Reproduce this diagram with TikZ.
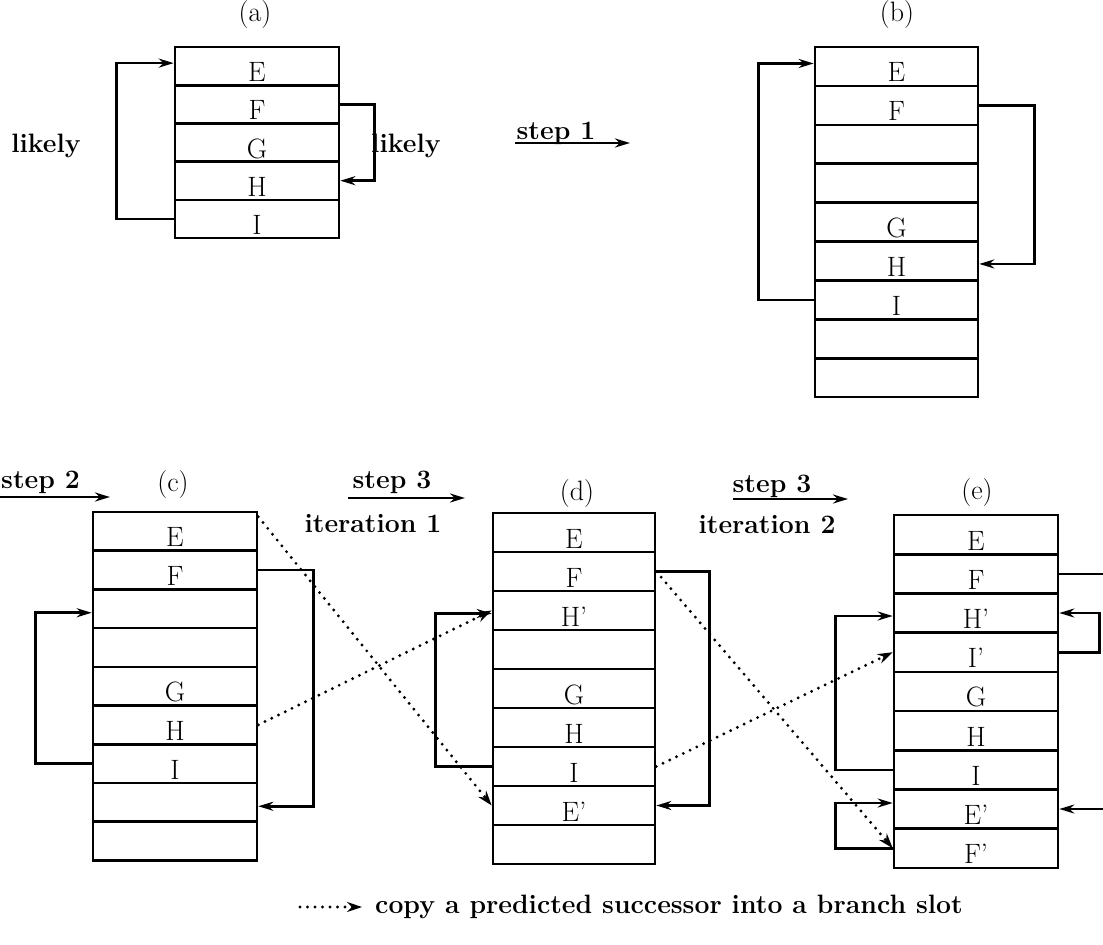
\documentclass[tikz,border=0pt]{standalone}
\usepackage{fontspec}
\setmainfont{Latin Modern Roman}
\usetikzlibrary{arrows.meta}
\begin{document}
\begin{tikzpicture}[x=1pt,y=-1pt,
  slot/.style={draw, line width=2.6pt, rectangle, inner sep=0pt, text height=31pt, text depth=0pt, font=\fontsize{28}{30}\selectfont},
  conn/.style={line width=2.6pt, line join=miter},
  arr/.style={conn, -{Stealth[length=15pt,width=9pt]}},
  dotarr/.style={line width=3.2pt, line cap=round, dash pattern=on 0pt off 7.5pt, -{Stealth[length=15pt,width=10pt]}},
  lbl/.style={font=\fontsize{26.6}{30}\selectfont\bfseries, inner sep=0pt},
  panelcap/.style={font=\fontsize{28}{30}\selectfont, inner sep=0pt}]
\useasboundingbox (0,0) rectangle (1103,945);

\newcommand\slotpanel[6]{%
  \foreach \t [count=\i] in {#6} {
    \node[slot, minimum width=#3pt, minimum height=#5pt] (#1\i) at ({#2+#3/2},{#4+(\i-0.5)*#5}) {\t};
  }}

% panels
\slotpanel{a}{175}{164}{47}{38.2}{E,F,G,H,I}
\slotpanel{b}{815}{163}{47}{38.9}{E,F,{},{},G,H,I,{},{}}
\slotpanel{c}{93}{164}{512}{38.7}{E,F,{},{},G,H,I,{},{}}
\slotpanel{d}{493}{162}{513}{39}{E,F,H',{},G,H,I,E',{}}
\slotpanel{e}{894}{164}{515}{39.2}{E,F,H',I',G,H,I,E',F'}

% panel captions
\node[panelcap] (capa) at (255,15) {(a)};
\node[panelcap] (capb) at (897,15) {(b)};
\node[panelcap] (capc) at (173,485) {(c)};
\node[panelcap] (capd) at (577,494) {(d)};
\node[panelcap] (cape) at (977,493) {(e)};

% likely labels
\node[lbl, anchor=base] (lk1) at (46,152) {likely};
\node[lbl, anchor=base west] (lk2) at (371,152) {likely};

% (a) loops
\draw[arr] (a5.west) -| ([xshift=-57pt,yshift=3pt]a1.west) -- ([yshift=3pt]a1.west);
\draw[arr] (a2.east) -| ([xshift=34pt]a4.east) -- (a4.east);

% (b) loops
\draw[arr] (b7.west) -| ([xshift=-55pt,yshift=3pt]b1.west) -- ([yshift=3pt]b1.west);
\draw[arr] (b2.east) -| ([xshift=55pt,yshift=-3pt]b6.east) -- ([yshift=-3pt]b6.east);

% (c) loops
\draw[arr] (c7.west) -| ([xshift=-56pt,yshift=-4pt]c3.west) -- ([yshift=-4pt]c3.west);
\draw[arr] (c2.east) -| ([xshift=55pt,yshift=-4pt]c8.east) -- ([yshift=-4pt]c8.east);

% (d) loops
\draw[arr] (d7.west) -| ([xshift=-56pt,yshift=-3pt]d3.west) -- ([yshift=-3pt]d3.west);
\draw[arr] (d2.east) -| ([xshift=53pt]d8.east) -- (d8.east);

% (e) loops
\draw[arr] (e7.west) -| ([xshift=-57pt,yshift=-3pt]e3.west) -- ([yshift=-3pt]e3.west);
\draw[arr] (e9.west) -| ([xshift=-57pt,yshift=6pt]e8.west) -- ([yshift=6pt]e8.west);
\draw[arr] (e4.east) -| ([xshift=40pt]e3.east) -- (e3.east);
\coordinate (eF) at (1103,575);
\draw[conn] (e2.east) -- (e2.east -| eF);
\coordinate (eE) at (1103,810);
\draw[arr] (e8.east -| eE) -- (e8.east);

% dotted copy arrows
\draw[dotarr] ([yshift=-6pt]c1.north east) -- (d8.west);
\draw[dotarr] (c6.east) -- (d3.west);
\draw[dotarr] (d2.east) -- (e9.west);
\draw[dotarr] (d7.east) -- (e4.west);

% step arrows
\coordinate (s1a) at (515,143); \coordinate (s1b) at (630,143);
\draw[arr] (s1a) -- (s1b);
\node[lbl, anchor=base] (s1t) at (556,139) {step 1};

\coordinate (s2a) at (0,497); \coordinate (s2b) at (110,497);
\draw[arr] (s2a) -- (s2b);
\node[lbl, anchor=base west] (s2t) at (1,488) {step 2};

\coordinate (s3a) at (348,498); \coordinate (s3b) at (465,498);
\draw[arr] (s3a) -- (s3b);
\node[lbl, anchor=base] (s3t) at (392,488) {step 3};
\node[lbl, anchor=base] (it1) at (373,532) {iteration 1};

\coordinate (s4a) at (733,499); \coordinate (s4b) at (848,499);
\draw[arr] (s4a) -- (s4b);
\node[lbl, anchor=base] (s4t) at (772,492) {step 3};
\node[lbl, anchor=base] (it2) at (767,533) {iteration 2};

% legend
\coordinate (lg1) at (300,907); \coordinate (lg2) at (362,907);
\draw[dotarr] (lg1) -- (lg2);
\node[lbl, anchor=west] (legend) at (375,907) {copy a predicted successor into a branch slot};
\end{tikzpicture}
\end{document}
